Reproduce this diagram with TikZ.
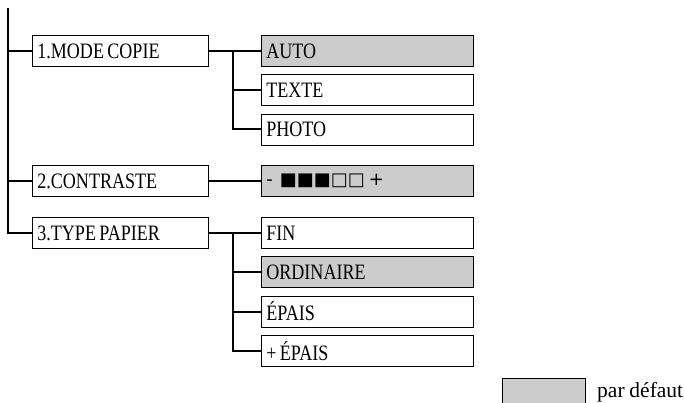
\documentclass[tikz,border=0pt]{standalone}
\usepackage{fontspec}
\setmainfont{Liberation Serif}[FakeStretch=0.82, WordSpace=0.75]
\newfontfamily\legfont{Liberation Serif}[WordSpace=0.9]
\newfontfamily\symbfont{DejaVu Sans}
\definecolor{defgray}{gray}{0.8}

\tikzset{
  menuone/.style={draw=black, line width=0.8pt, anchor=west, minimum width=176pt,
    minimum height=31pt, text width=166pt, inner xsep=5pt, align=flush left,
    font=\fontsize{22}{22}\selectfont},
  menutwo/.style={menuone, minimum width=212pt, text width=202pt},
  defaut/.style={fill=defgray},
  branch/.style={line width=2pt}
}

\begin{document}
\begin{tikzpicture}[x=1pt,y=-1pt]
\useasboundingbox (0,0) rectangle (684,403);
% first level
\node[menuone] (mode) at (32,51) {1.MODE COPIE};
\node[menuone] (contr) at (32,181) {2.CONTRASTE};
\node[menuone] (papier) at (32,233) {3.TYPE PAPIER};
% second level
\node[menutwo,defaut] (auto) at (261,51) {AUTO};
\node[menutwo] (texte) at (261,90) {TEXTE};
\node[menutwo] (photo) at (261,129.5) {PHOTO};
\node[menutwo,defaut] (niveau) at (261,181) {\symbfont\fontsize{18}{18}\selectfont -\hspace{7pt}■■■□□\hspace{4pt}+};
\node[menutwo] (fin) at (261,233) {FIN};
\node[menutwo,defaut] (ordin) at (261,272) {ORDINAIRE};
\node[menutwo] (epais) at (261,311.5) {ÉPAIS};
\node[menutwo] (tepais) at (261,351) {+ ÉPAIS};
% trunk
\coordinate (haut) at (8,8);
\draw[branch] (haut) |- (papier.west);
\draw[branch] (haut |- mode.west) -- (mode.west);
\draw[branch] (haut |- contr.west) -- (contr.west);
% branches
\coordinate (jmode) at (233,51);
\coordinate (jpapier) at (233,233);
\draw[branch] (mode.east) -- (auto.west);
\draw[branch] (jmode) |- (photo.west);
\draw[branch] (jmode |- texte.west) -- (texte.west);
\draw[branch] (contr.east) -- (niveau.west);
\draw[branch] (papier.east) -- (fin.west);
\draw[branch] (jpapier) |- (tepais.west);
\draw[branch] (jpapier |- ordin.west) -- (ordin.west);
\draw[branch] (jpapier |- epais.west) -- (epais.west);
% legend
\node[draw, defaut, line width=0.8pt, minimum width=83pt, minimum height=25pt, anchor=north west] (legende) at (502,378) {};
\node[anchor=west, inner sep=0pt, font=\legfont\fontsize{21.5}{21.5}\selectfont] (legtxt) at (597,392) {par défaut};
\end{tikzpicture}
\end{document}
